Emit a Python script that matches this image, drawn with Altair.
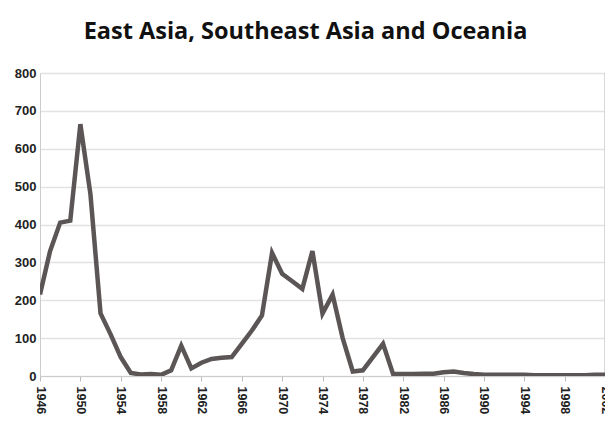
import altair as alt
import pandas as pd

years = list(range(1946, 2003))
values = [
    215, 330, 405, 410, 665, 480, 165, 110, 50, 8,
    4, 5, 3, 15, 80, 20, 35, 45, 48, 50,
    85, 120, 160, 325, 270, 250, 230, 330, 165, 215,
    100, 12, 15, 50, 85, 5, 5, 5, 6, 6,
    10, 12, 8, 5, 3, 3, 3, 3, 3, 2,
    2, 2, 2, 2, 2, 3, 3,
]
y_ticks = [0, 100, 200, 300, 400, 500, 600, 700, 800]

df = pd.DataFrame({"year": years, "value": values})

line = alt.Chart(df).mark_line(color="#5b5556", strokeWidth=4.5, strokeJoin="miter", clip=True).encode(
    x=alt.X("year:Q",
            scale=alt.Scale(domain=[1946, 2002], nice=False, zero=False),
            axis=alt.Axis(values=years, labelExpr="datum.value % 2 == 0 ? datum.value : ''",
                          labelAngle=90, labelAlign="left", labelBaseline="middle",
                          labelFont="Liberation Sans", labelFontWeight="bold", labelFontSize=12.5,
                          labelColor="#222", labelPadding=5, tickSize=5, tickColor="#bbb",
                          domainColor="#ccc", grid=False, title=None, labelOverlap=False)),
    y=alt.Y("value:Q",
            scale=alt.Scale(domain=[0, 800], nice=False),
            axis=alt.Axis(values=y_ticks, labelFont="Liberation Sans", labelFontWeight="bold",
                          labelFontSize=13, labelColor="#222", ticks=False, labelPadding=4,
                          domainColor="#ccc", gridColor="#e2e2e2", gridWidth=1.5, title=None)),
)

border = alt.Chart(pd.DataFrame({"x": [2002]})).mark_rule(color="#ccc", strokeWidth=1.5).encode(
    x=alt.X("x:Q", scale=alt.Scale(domain=[1946, 2002], nice=False, zero=False))
)

chart = alt.layer(border, line).properties(
    width=565, height=303,
    title=alt.TitleParams("East Asia, Southeast Asia and Oceania", font="Open Sans",
                          fontWeight="bold", fontSize=23.5, color="#111", anchor="middle",
                          dx=-17, offset=24),
    autosize=alt.AutoSizeParams(type="none"),
    padding={"left": 32, "top": 65, "right": 0, "bottom": 40},
).configure_view(stroke=None).configure(background="white")

chart.save("out.html", embed_options={"renderer": "svg", "actions": False})
